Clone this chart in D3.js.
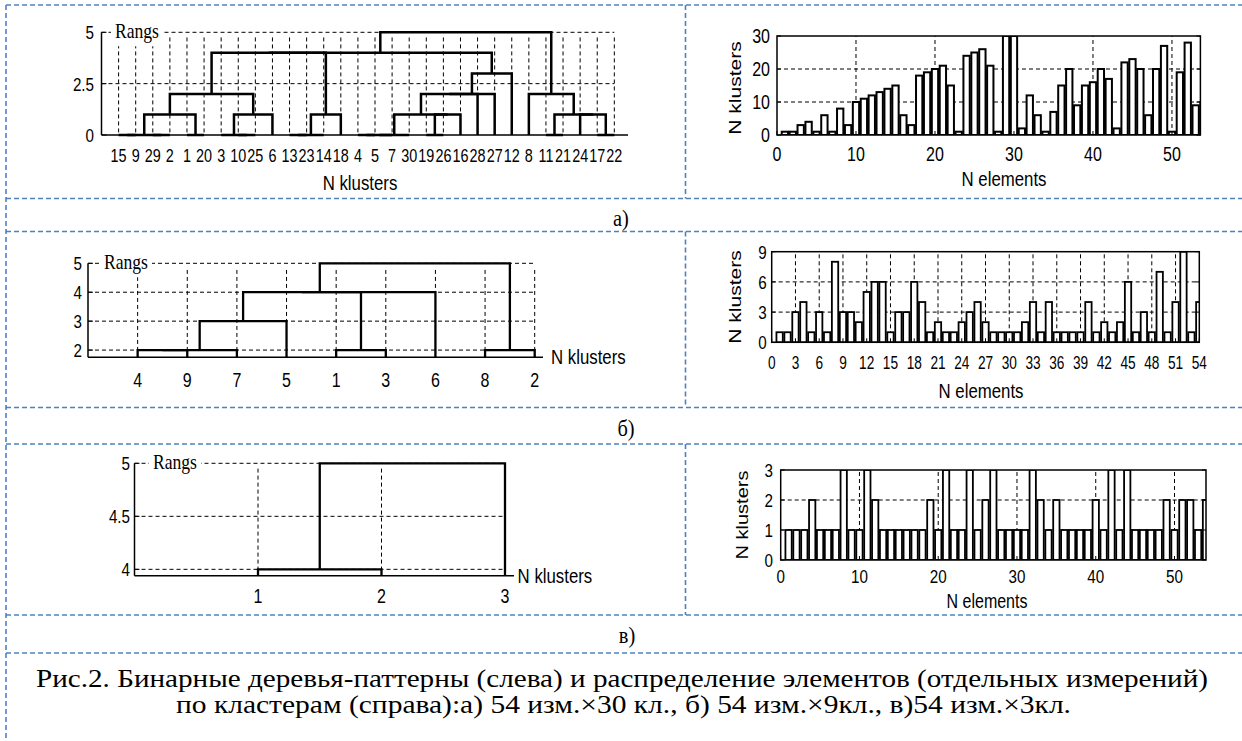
<!DOCTYPE html>
<html lang="ru">
<head>
<meta charset="UTF-8">
<title>Рис.2</title>
<script src="https://d3js.org/d3.v7.min.js"></script>
<style>
    body, html { margin: 0; padding: 0; background: #fff; overflow: hidden; }
    svg { display: block; }
</style>
</head>
<body>
<script>
const SANS = "'Liberation Sans', Arial, sans-serif";
const SERIF = "'Liberation Serif', 'Times New Roman', serif";

// ---------- а) 54 elements x 30 clusters ----------
const leavesA = [15, 9, 29, 2, 1, 20, 3, 10, 25, 6, 13, 23, 14, 18, 4, 5, 7, 30, 19, 26, 16, 28, 27, 12, 8, 11, 21, 24, 17, 22];
const rangTicksA = [0, 2.5, 5];
// link: [left x, right x, height, left leg bottom, right leg bottom]  (x in leaf order units)
const linksA = [
    [1, 2, 0, 0, 0], [3, 4, 0, 0, 0], [1.5, 3.5, 0, 0, 0], [5, 6, 0, 0, 0],
    [8, 9, 0, 0, 0], [7, 8.5, 0, 0, 0], [11, 12, 0, 0, 0], [11.5, 13, 0, 0, 0],
    [15, 16, 0, 0, 0], [15.5, 17, 0, 0, 0], [16.25, 18, 0, 0, 0], [19, 20, 0, 0, 0],
    [26, 27, 0, 0, 0], [29, 30, 0, 0, 0],
    [2.5, 5.5, 1, 0, 0], [7.75, 10, 1, 0, 0], [12.25, 14, 1, 0, 0], [19.5, 21, 1, 0, 0],
    [17.125, 20.25, 1, 0, 1], [28, 29.5, 1, 0, 0], [26.5, 28.75, 1, 0, 1],
    [4, 8.875, 2, 1, 1], [18.69, 22, 2, 1, 0], [20.34, 23, 2, 2, 0], [25, 27.625, 2, 0, 1],
    [21.67, 24, 3, 2, 0],
    [6.44, 13.125, 4, 2, 1], [9.78, 22.83, 4, 4, 3],
    [16.31, 26.31, 5, 4, 2]
];
const barsA = [1, 1, 3, 4, 1, 6, 1, 8, 3, 10, 11, 12, 13, 14, 15, 6, 3, 18, 19, 20,
    21, 15, 1, 24, 25, 26, 21, 1, 30, 30, 2, 12, 6, 1, 7, 15, 20, 9, 15, 16,
    20, 17, 2, 22, 23, 20, 6, 20, 27, 1, 19, 28, 9, 10];
const elemTicksA = [0, 10, 20, 30, 40, 50];
const klustTicksA = [0, 10, 20, 30];

// ---------- б) 54 elements x 9 clusters ----------
const leavesB = [4, 9, 7, 5, 1, 3, 6, 8, 2];
const rangTicksB = [2, 3, 4, 5];
const linksB = [
    [1, 2, 2, 1.75, 1.75], [1.5, 3, 2, 2, 1.75], [2.25, 4, 3, 2, 1.75], [5, 6, 2, 1.75, 1.75],
    [3.125, 5.5, 4, 3, 2], [4.31, 7, 4, 4, 1.75], [8, 9, 2, 1.75, 1.75], [4.67, 8.5, 5, 4, 2]
];
const barsB = [1, 1, 3, 4, 1, 3, 1, 8, 3, 3, 2, 5, 6, 6, 1, 3, 3, 6, 4, 1,
    2, 1, 1, 2, 3, 4, 2, 1, 1, 1, 1, 2, 4, 1, 4, 1, 1, 1, 1, 4,
    1, 2, 1, 2, 6, 1, 3, 1, 7, 1, 4, 9, 1, 4];
const elemTicksB = [0, 3, 6, 9, 12, 15, 18, 21, 24, 27, 30, 33, 36, 39, 42, 45, 48, 51, 54];
const klustTicksB = [0, 3, 6, 9];

// ---------- в) 54 elements x 3 clusters ----------
const leavesC = [1, 2, 3];
const rangTicksC = [4, 4.5, 5];
const linksC = [[1, 2, 4, 3.94, 3.94], [1.5, 3, 5, 4, 3.94]];
const barsC = [1, 1, 1, 2, 1, 1, 1, 3, 1, 1, 3, 2, 1, 1, 1, 1, 1, 1, 2, 1,
    3, 1, 1, 3, 1, 2, 3, 1, 1, 1, 1, 3, 2, 1, 2, 1, 1, 1, 1, 2,
    1, 3, 1, 3, 1, 1, 1, 1, 2, 1, 2, 2, 1, 2];
const elemTicksC = [0, 10, 20, 30, 40, 50];
const klustTicksC = [0, 1, 2, 3];

const rowLabels = ["а)", "б)", "в)"];
const captionLines = [
    "Рис.2. Бинарные деревья-паттерны (слева) и распределение элементов (отдельных измерений)",
    "по кластерам (справа):а) 54 изм.×30 кл., б) 54 изм.×9кл., в)54 изм.×3кл."
];

const svg = d3.select("body").append("svg").attr("width", 1242).attr("height", 741);

// narrow text helper (the original picture is squeezed horizontally)
function txt(g, x, y, s, o) {
    o = Object.assign({ size: 20, sx: 0.8, anchor: "middle", rot: 0, family: SANS }, o);
    const t = g.append("text")
        .attr("transform", `translate(${x},${y}) scale(${o.sx},1)` + (o.rot ? ` rotate(${o.rot})` : ""))
        .attr("text-anchor", o.anchor)
        .style("font-family", o.family)
        .style("font-size", o.size + "px")
        .attr("fill", "#000")
        .text(s);
    if (o.dy) t.attr("dy", o.dy);
    return t;
}

function dashLine(g, x1, y1, x2, y2) {
    g.append("line").attr("x1", x1).attr("y1", y1).attr("x2", x2).attr("y2", y2)
        .attr("stroke", "#000").attr("stroke-width", 1).attr("stroke-dasharray", "4,3");
}

function drawDendro(c) {
    const g = svg.append("g");
    const x = d3.scaleLinear().domain(c.xDomain).range(c.xRange);
    const y = d3.scaleLinear().domain(c.yDomain).range(c.yRange);
    const n = c.leaves.length;
    const y0 = c.yDomain[0];

    d3.range(1, n + 1).forEach(p => dashLine(g, x(p), y(c.vTop), x(p), y(y0)));
    c.grid.forEach(r => dashLine(g, x(0), y(r), x(n), y(r)));

    // Rangs label over a white patch
    const top = c.yDomain[1];
    g.append("rect").attr("x", c.rangsX - 4).attr("y", y(top) - 13)
        .attr("width", 52).attr("height", 27).attr("fill", "#fff");
    txt(g, c.rangsX, y(top) + 6, "Rangs", { family: SERIF, size: 22, sx: 0.8, anchor: "start" });

    // axes
    g.append("line").attr("x1", x(0)).attr("x2", x(0)).attr("y1", y(y0)).attr("y2", y(top))
        .attr("stroke", "#000").attr("stroke-width", 1.5);
    g.append("line").attr("x1", x(0)).attr("x2", c.axisEnd).attr("y1", y(y0)).attr("y2", y(y0))
        .attr("stroke", "#000").attr("stroke-width", 1.5);
    c.ticks.forEach(t => {
        g.append("line").attr("x1", x(0)).attr("x2", x(0) + 5).attr("y1", y(t)).attr("y2", y(t))
            .attr("stroke", "#000").attr("stroke-width", 1);
        txt(g, c.tickRight, y(t), String(t), { size: 19, anchor: "end", dy: "0.36em" });
    });

    // links
    g.selectAll(null).data(c.links).join("path")
        .attr("d", d => `M${x(d[0])},${y(d[3])}V${y(d[2])}H${x(d[1])}V${y(d[4])}`)
        .attr("fill", "none").attr("stroke", "#000").attr("stroke-width", c.lw)
        .attr("stroke-linejoin", "miter");

    // leaf labels
    c.leaves.forEach((l, i) => txt(g, x(i + 1), c.leafBase, String(l), { size: c.leafSize }));
    txt(g, c.nkX, c.nkY, "N klusters", { size: 21, anchor: c.nkAnchor });
}

function drawBars(c) {
    const g = svg.append("g");
    const x = d3.scaleLinear().domain(c.xDomain).range(c.xRange);
    const y = d3.scaleLinear().domain(c.yDomain).range(c.yRange);
    const [xa, xb] = c.xRange, [yb, ya] = c.yRange;

    g.append("clipPath").attr("id", c.id).append("rect")
        .attr("x", xa).attr("y", ya).attr("width", xb - xa).attr("height", yb - ya);

    c.xGrid.forEach(v => dashLine(g, x(v), yb, x(v), ya));
    c.yGrid.forEach(v => dashLine(g, xa, y(v), xb, y(v)));

    g.append("g").attr("clip-path", `url(#${c.id})`)
        .selectAll("rect").data(c.values).join("rect")
        .attr("x", (d, i) => x(i + 1 - 0.4))
        .attr("width", x(0.8) - x(0))
        .attr("y", d => y(d))
        .attr("height", d => y(0) - y(d))
        .attr("fill", "#fff").attr("stroke", "#000").attr("stroke-width", c.lw);

    g.append("rect").attr("x", xa).attr("y", ya).attr("width", xb - xa).attr("height", yb - ya)
        .attr("fill", "none").attr("stroke", "#000").attr("stroke-width", 1.5);

    c.yTicks.forEach(v => {
        g.append("line").attr("x1", xa).attr("x2", xa + 4).attr("y1", y(v)).attr("y2", y(v)).attr("stroke", "#000");
        g.append("line").attr("x1", xb).attr("x2", xb - 4).attr("y1", y(v)).attr("y2", y(v)).attr("stroke", "#000");
        txt(g, c.yLabRight, y(v), String(v), { size: c.tickSize, anchor: "end", dy: "0.36em" });
    });
    c.xTicks.forEach(v => {
        g.append("line").attr("x1", x(v)).attr("x2", x(v)).attr("y1", yb).attr("y2", yb - 4).attr("stroke", "#000");
        txt(g, x(v), c.xLabBase, String(v), { size: c.tickSize, sx: c.xsx || 0.8 });
    });

    txt(g, c.yTitle[0], c.yTitle[1], "N klusters", { size: c.titleSize, rot: -90, dy: "0.36em" });
    txt(g, c.xTitle[0], c.xTitle[1], "N elements", { size: c.titleSize });
}

// ---------- frame (blue dashed table) ----------
const frame = svg.append("g").attr("stroke", "#4f81bd").attr("stroke-width", 1.6)
    .attr("stroke-dasharray", "5,3").attr("fill", "none");
[5, 198.5, 231.5, 407.5, 444, 615, 653].forEach(v =>
    frame.append("line").attr("x1", 6).attr("x2", 1242).attr("y1", v).attr("y2", v));
frame.append("line").attr("x1", 6).attr("x2", 6).attr("y1", 5).attr("y2", 741);
[[5, 198.5], [231.5, 407.5], [444, 615]].forEach(([a, b]) =>
    frame.append("line").attr("x1", 685.5).attr("x2", 685.5).attr("y1", a).attr("y2", b));

// ---------- а) ----------
drawDendro({
    leaves: leavesA, links: linksA, ticks: rangTicksA, grid: [2.5, 5],
    xDomain: [0, 30.8], xRange: [101.5, 628], yDomain: [0, 5], yRange: [135, 32.3],
    vTop: 4.75, axisEnd: 628, rangsX: 115, tickRight: 94, lw: 2.5,
    leafBase: 161.5, leafSize: 18, nkX: 360, nkY: 190, nkAnchor: "middle"
});
drawBars({
    id: "clipA", values: barsA, xDomain: [0, 53.6], xRange: [777, 1200.4],
    yDomain: [0, 30], yRange: [135, 36], xGrid: [10, 20, 30, 40, 50], yGrid: [10, 20],
    xTicks: elemTicksA, yTicks: klustTicksA, tickSize: 20, lw: 2,
    yLabRight: 770, xLabBase: 160.5, yTitle: [735, 88], xTitle: [1004, 185.5], titleSize: 21
});

// ---------- б) ----------
drawDendro({
    leaves: leavesB, links: linksB, ticks: rangTicksB, grid: [2, 3, 4, 5],
    xDomain: [0, 9], xRange: [88, 534.7], yDomain: [1.75, 5], yRange: [357.3, 263.3],
    vTop: 4.77, axisEnd: 543, rangsX: 104, tickRight: 82, lw: 2.3,
    leafBase: 386.7, leafSize: 20, nkX: 551, nkY: 364, nkAnchor: "start"
});
drawBars({
    id: "clipB", values: barsB, xDomain: [0, 54], xRange: [771.7, 1199.3],
    yDomain: [0, 9], yRange: [342.3, 251.7], xGrid: elemTicksB.slice(1, -1), yGrid: [3, 6],
    xTicks: elemTicksB, yTicks: klustTicksB, tickSize: 19, xsx: 0.72, lw: 1.8,
    yLabRight: 766.7, xLabBase: 369.3, yTitle: [735, 297], xTitle: [981, 398.3], titleSize: 21
});

// ---------- в) ----------
drawDendro({
    leaves: leavesC, links: linksC, ticks: rangTicksC, grid: [4, 4.5, 5],
    xDomain: [0, 3], xRange: [134.5, 505], yDomain: [3.94, 5], yRange: [575.7, 463.3],
    vTop: 4.95, axisEnd: 514, rangsX: 153, tickRight: 130, lw: 2.3,
    leafBase: 603.3, leafSize: 20, nkX: 517.6, nkY: 583, nkAnchor: "start"
});
drawBars({
    id: "clipC", values: barsC, xDomain: [0, 54], xRange: [780.7, 1206],
    yDomain: [0, 3], yRange: [560, 470], xGrid: [10, 20, 30, 40, 50], yGrid: [1, 2],
    xTicks: elemTicksC, yTicks: klustTicksC, tickSize: 19, lw: 1.8,
    yLabRight: 773, xLabBase: 583.3, yTitle: [742.7, 515], xTitle: [987, 608], titleSize: 20
});

// ---------- row labels and caption ----------
[[621, 226], [626, 436], [627, 643]].forEach(([x, y], i) =>
    txt(svg, x, y, rowLabels[i], { family: SERIF, size: 24, sx: 0.85 }));

svg.selectAll(".cap").data(captionLines).join("text")
    .attr("class", "cap")
    .attr("x", (d, i) => [36, 176][i])
    .attr("y", (d, i) => [687.3, 713.3][i])
    .attr("textLength", (d, i) => [1172, 895][i])
    .attr("lengthAdjust", "spacingAndGlyphs")
    .style("font-family", SERIF).style("font-size", "25px")
    .text(d => d);
</script>
</body>
</html>
